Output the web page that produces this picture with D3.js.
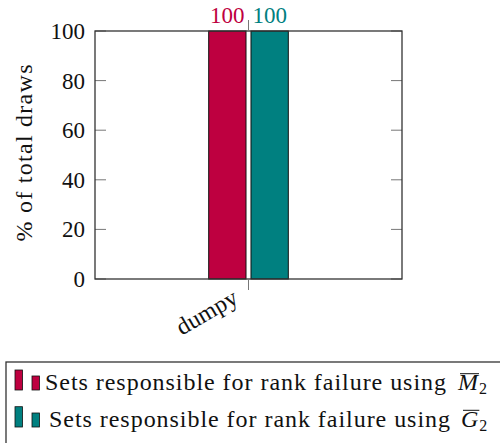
<!DOCTYPE html>
<html>
<head>
<meta charset="utf-8">
<script src="https://cdn.jsdelivr.net/npm/d3@7"></script>
</head>
<body style="margin:0;background:#fff">
<script>
// data
const categories = ['dumpy']
const seriesNames = ['M', 'G']
const seriesColors = ['#BE0040', '#008080']
const valuesM = [100]
const valuesG = [100]
const yTicks = [0, 20, 40, 60, 80, 100]
const legendLabels = ['Sets responsible for rank failure using', 'Sets responsible for rank failure using']

const width = 500
const height = 443
const frame = { left: 95, right: 402, top: 31, bottom: 279 }
const fontSize = 23
const fontName = '"Liberation Serif"'

const svg = d3.select('body')
  .append('svg')
  .attr('width', width)
  .attr('height', height)

const x0 = d3.scaleBand()
  .domain(categories)
  .range([frame.left, frame.right])
  .paddingInner(0)
  .paddingOuter(1.428)

const x1 = d3.scaleBand()
  .domain(seriesNames)
  .range([0, x0.bandwidth()])
  .paddingInner(0.118)

const y = d3.scaleLinear()
  .domain([0, 100])
  .range([frame.bottom, frame.top])

const rows = categories.map((c, i) => ({ cat: c, values: [valuesM[i], valuesG[i]] }))

// inner ticks left / right
const ticks = svg.append('g')
ticks.selectAll('line.l')
  .data(yTicks)
  .enter()
  .append('line')
  .attr('x1', frame.left).attr('x2', frame.left + 11)
  .attr('y1', d => y(d)).attr('y2', d => y(d))
  .style('stroke', '#777').style('stroke-width', 1)
ticks.selectAll('line.r')
  .data(yTicks)
  .enter()
  .append('line')
  .attr('x1', frame.right - 11).attr('x2', frame.right)
  .attr('y1', d => y(d)).attr('y2', d => y(d))
  .style('stroke', '#777').style('stroke-width', 1)

svg.append('g')
  .selectAll('text')
  .data(yTicks)
  .enter()
  .append('text')
  .attr('x', frame.left - 10)
  .attr('y', d => y(d) + 8)
  .attr('text-anchor', 'end')
  .style('font-family', fontName)
  .style('font-size', fontSize + 'px')
  .style('fill', '#111')
  .text(d => d)

// bars
const groups = svg.append('g')
  .selectAll('g')
  .data(rows)
  .enter()
  .append('g')
  .attr('transform', d => `translate(${x0(d.cat)},0)`)

const barData = d => d.values.map((v, j) => ({ key: seriesNames[j], value: v, color: seriesColors[j] }))

groups.selectAll('rect')
  .data(barData)
  .enter()
  .append('rect')
  .attr('x', d => x1(d.key))
  .attr('width', x1.bandwidth())
  .attr('y', d => y(d.value))
  .attr('height', d => y(0) - y(d.value))
  .style('fill', d => d.color)
  .style('stroke', '#111')
  .style('stroke-width', 1)

groups.selectAll('text')
  .data(barData)
  .enter()
  .append('text')
  .attr('x', d => x1(d.key) + x1.bandwidth() / 2)
  .attr('y', d => y(d.value) - 8)
  .attr('text-anchor', 'middle')
  .style('font-family', fontName)
  .style('font-size', fontSize + 'px')
  .style('fill', d => d.color)
  .text(d => d.value)

// frame
svg.append('rect')
  .attr('x', frame.left).attr('y', frame.top)
  .attr('width', frame.right - frame.left)
  .attr('height', frame.bottom - frame.top)
  .style('fill', 'none')
  .style('stroke', '#333')
  .style('stroke-width', 1.3)

// category ticks (outside)
categories.forEach(c => {
  const cx = x0(c) + x0.bandwidth() / 2
  svg.append('line')
    .attr('x1', cx).attr('x2', cx)
    .attr('y1', frame.top - 11).attr('y2', frame.top)
    .style('stroke', '#777')
  svg.append('line')
    .attr('x1', cx).attr('x2', cx)
    .attr('y1', frame.bottom).attr('y2', frame.bottom + 11)
    .style('stroke', '#777')
  svg.append('text')
    .attr('transform', `translate(${cx - 13},${frame.bottom + 16}) rotate(-30)`)
    .attr('text-anchor', 'end')
    .attr('dy', '0.35em')
    .attr('textLength', 67)
    .attr('lengthAdjust', 'spacing')
    .style('font-family', fontName)
    .style('font-size', '24px')
    .style('fill', '#111')
    .text(c)
})

// y label
svg.append('text')
  .attr('transform', `translate(32,153) rotate(-90)`)
  .attr('text-anchor', 'middle')
  .attr('textLength', 177)
  .attr('lengthAdjust', 'spacing')
  .style('font-family', fontName)
  .style('font-size', '24px')
  .style('fill', '#111')
  .text('% of total draws')

// legend
const legend = svg.append('g')
legend.append('rect')
  .attr('x', 6).attr('y', 362)
  .attr('width', 600).attr('height', 200)
  .style('fill', '#fff')
  .style('stroke', '#333')
  .style('stroke-width', 1.3)

const legendRows = [
  { label: legendLabels[0], sym: 'M', color: seriesColors[0], base: 390, tx: 45, mx: 458, top: 370, over: 373.7 },
  { label: legendLabels[1], sym: 'G', color: seriesColors[1], base: 427, tx: 49, mx: 461, top: 406.7, over: 410.3 }
]

legendRows.forEach(r => {
  const g = legend.append('g')
  g.append('rect')
    .attr('x', 15).attr('y', r.top)
    .attr('width', 7.5).attr('height', r.base - r.top)
    .style('fill', r.color).style('stroke', '#111').style('stroke-width', 0.8)
  g.append('rect')
    .attr('x', 32).attr('y', r.base - 14)
    .attr('width', 7.5).attr('height', 14)
    .style('fill', r.color).style('stroke', '#111').style('stroke-width', 0.8)
  g.append('text')
    .attr('x', r.tx)
    .attr('y', r.base)
    .attr('textLength', 401)
    .attr('lengthAdjust', 'spacing')
    .style('font-family', fontName)
    .style('font-size', '24px')
    .style('fill', '#111')
    .text(r.label)
  const m = g.append('text')
    .attr('x', r.mx)
    .attr('y', r.base)
    .style('font-family', fontName)
    .style('font-style', 'italic')
    .style('font-size', '24px')
    .style('fill', '#111')
    .text(r.sym)
  const mw = m.node().getComputedTextLength()
  g.append('text')
    .attr('x', r.mx + mw + 1)
    .attr('y', r.base + 4)
    .style('font-family', fontName)
    .style('font-size', '16px')
    .style('fill', '#111')
    .text('2')
  g.append('line')
    .attr('x1', r.mx + 2).attr('x2', r.mx + mw + 1)
    .attr('y1', r.over).attr('y2', r.over)
    .style('stroke', '#111').style('stroke-width', 1)
})
</script>
</body>
</html>
